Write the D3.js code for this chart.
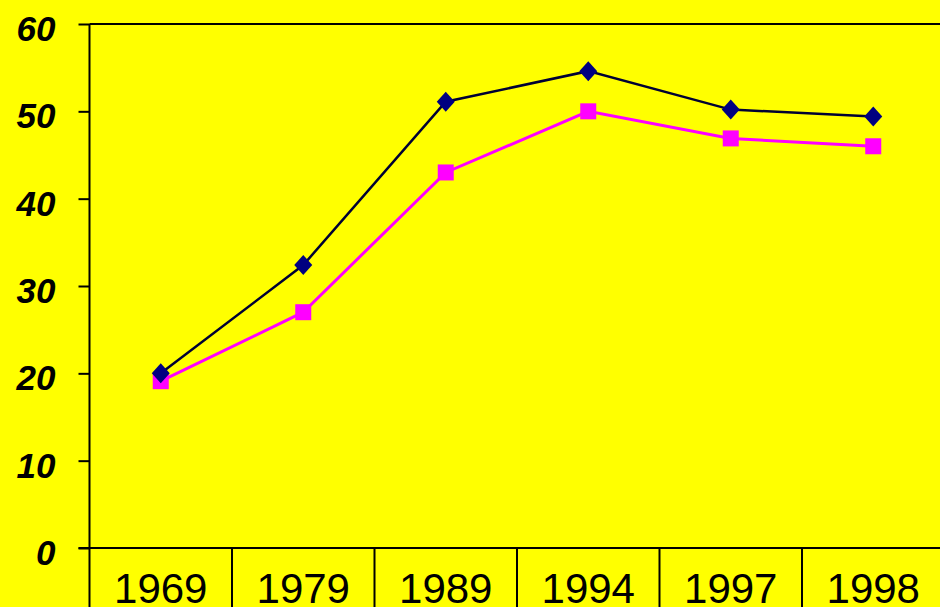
<!DOCTYPE html>
<html>
<head>
<meta charset="utf-8">
<script src="https://cdn.jsdelivr.net/npm/d3@7"></script>
<style>
  html, body { margin: 0; padding: 0; background: #ffff00; }
  svg { display: block; }
</style>
</head>
<body>
<svg id="chart" width="940" height="607"></svg>
<script>
// Survey years and the two series
const years = ["1969", "1979", "1989", "1994", "1997", "1998"];
const seriesA = [20.0, 32.4, 51.1, 54.6, 50.2, 49.4];   // navy diamonds
const seriesB = [19.1, 27.0, 43.0, 50.0, 46.9, 46.0];   // magenta squares
const yTicks = [0, 10, 20, 30, 40, 50, 60];

const W = 940, H = 607;
const plotLeft = 89.5, plotRight = 944.5, plotTop = 24, plotBottom = 548;

const svg = d3.select("#chart");
svg.append("rect").attr("width", W).attr("height", H).attr("fill", "#ffff00");

const x = d3.scaleBand().domain(years).range([plotLeft, plotRight]).padding(0);
const y = d3.scaleLinear().domain([0, 60]).range([plotBottom, plotTop]);

// plot frame: top border
svg.append("line")
  .attr("x1", plotLeft).attr("x2", plotRight)
  .attr("y1", y(60)).attr("y2", y(60))
  .attr("stroke", "#000").attr("stroke-width", 2);

// value axis
const yAxis = svg.append("g")
  .attr("transform", `translate(${plotLeft},0)`)
  .call(d3.axisLeft(y).tickValues(yTicks).tickSize(11).tickPadding(23).tickFormat(d3.format("d")));
yAxis.select(".domain").remove();
yAxis.selectAll(".tick line").attr("stroke", "#000").attr("stroke-width", 2);
yAxis.selectAll(".tick text")
  .attr("fill", "#000")
  .attr("dy", "0.47em")
  .style("font-family", "'Liberation Sans', Arial, sans-serif")
  .style("font-size", "35px")
  .style("font-weight", "bold")
  .style("font-style", "italic");

// vertical axis line running down through the category row
svg.append("line")
  .attr("x1", plotLeft).attr("x2", plotLeft)
  .attr("y1", y(60)).attr("y2", H)
  .attr("stroke", "#000").attr("stroke-width", 2);

// zero line
svg.append("line")
  .attr("x1", plotLeft - 11).attr("x2", plotRight)
  .attr("y1", y(0)).attr("y2", y(0))
  .attr("stroke", "#000").attr("stroke-width", 2);

// category separators and labels
const xAxis = svg.append("g").attr("transform", `translate(0,${plotBottom})`);
xAxis.selectAll("line.sep")
  .data(years.slice(1))
  .join("line")
  .attr("class", "sep")
  .attr("x1", d => x(d)).attr("x2", d => x(d))
  .attr("y1", 0).attr("y2", H - plotBottom)
  .attr("stroke", "#000").attr("stroke-width", 2);
xAxis.selectAll("text")
  .data(years)
  .join("text")
  .attr("x", d => x(d) + x.bandwidth() / 2)
  .attr("y", 55)
  .attr("text-anchor", "middle")
  .attr("fill", "#000")
  .style("font-family", "'Liberation Sans', Arial, sans-serif")
  .style("font-size", "42px")
  .text(d => d);

const cx = d => x(d) + x.bandwidth() / 2;

// magenta series
const dataB = years.map((yr, i) => ({ yr, v: seriesB[i] }));
svg.append("path")
  .datum(dataB)
  .attr("fill", "none")
  .attr("stroke", "#ff00ff")
  .attr("stroke-width", 3)
  .attr("d", d3.line().x(d => cx(d.yr)).y(d => y(d.v)));
svg.selectAll("rect.sq")
  .data(dataB)
  .join("rect")
  .attr("class", "sq")
  .attr("x", d => cx(d.yr) - 8).attr("y", d => y(d.v) - 8)
  .attr("width", 16).attr("height", 16)
  .attr("fill", "#ff00ff");

// navy series
const dataA = years.map((yr, i) => ({ yr, v: seriesA[i] }));
svg.append("path")
  .datum(dataA)
  .attr("fill", "none")
  .attr("stroke", "#000033")
  .attr("stroke-width", 2.5)
  .attr("d", d3.line().x(d => cx(d.yr)).y(d => y(d.v)));
svg.selectAll("path.dia")
  .data(dataA)
  .join("path")
  .attr("class", "dia")
  .attr("transform", d => `translate(${cx(d.yr)},${y(d.v)})`)
  .attr("d", "M0,-10L9,0L0,10L-9,0Z")
  .attr("fill", "#000080");
</script>
</body>
</html>
